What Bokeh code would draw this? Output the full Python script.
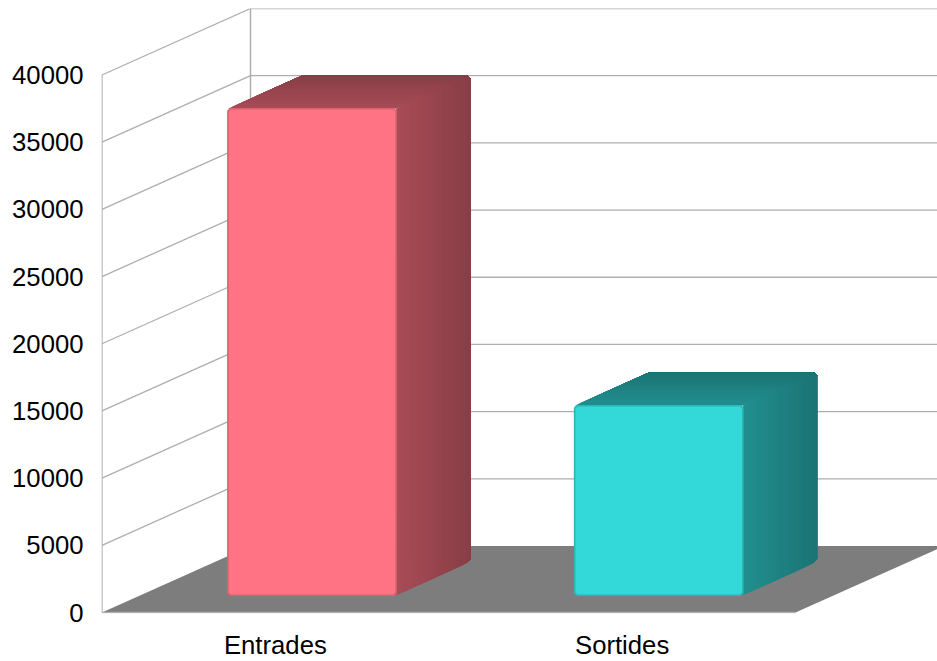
from bokeh.embed import file_html
from bokeh.resources import INLINE
from bokeh.plotting import figure
from bokeh.models import Range1d, FixedTicker

# ---- data
categories = ["Entrades", "Sortides"]
values = [36200, 14100]
y_ticks = [0, 5000, 10000, 15000, 20000, 25000, 30000, 35000, 40000]
face_colors = [(255, 115, 132), (51, 217, 217)]
edge_colors = ["#d9626f", "#2bb5b5"]

# ---- chart geometry
PX_X = 346.75            # pixels per category
PX_Y = 537.5 / 40000     # pixels per value unit
DX = 148.5 / PX_X        # depth shift, in category units
DY = 66.5 / PX_Y         # depth shift, in value units
BAR_W = 0.485
BAR_SHIFT = -2.0 / PX_X
D0, D1 = 0.26, 0.76      # bar span in depth
GRID = "#aeaeae"
FLOOR = "#7d7d7d"
FONT = "Liberation Sans"
FONT_SIZE = "25.7px"

FRAME_W, FRAME_H = 836, 605
x_start = -0.5 / PX_X
y_start = -1.0 / PX_Y

p = figure(width=937, height=661, output_backend="svg", toolbar_location=None,
           x_range=Range1d(x_start, x_start + FRAME_W / PX_X),
           y_range=Range1d(y_start, y_start + FRAME_H / PX_Y),
           min_border_left=101, min_border_right=0, min_border_top=8, min_border_bottom=48)
p.outline_line_color = None
p.grid.visible = False
p.background_fill_color = "white"
p.border_fill_color = "white"


def proj(x, v, d):
    return x + d * DX, v + d * DY


n_cat = len(categories)
top = y_ticks[-1]

# walls
for t in y_ticks[1:]:
    x0, y0 = proj(0, t, 0)
    x1, y1 = proj(0, t, 1)
    p.line([x0, x1, x1 + n_cat], [y0, y1, y1], line_color=GRID, line_width=1.3)
bx, by0 = proj(0, 0, 1)
_, by1 = proj(0, top, 1)
p.line([bx, bx], [by0, by1], line_color=GRID, line_width=1.5)
p.line([0, 0], [0, top], line_color=GRID, line_width=1.3)

# floor
fl = [proj(0, 0, 0), proj(n_cat, 0, 0), proj(n_cat, 0, 1), proj(0, 0, 1)]
p.patch([a[0] for a in fl], [a[1] for a in fl], fill_color=FLOOR, line_color=None)
p.line([0, n_cat], [0, 0], line_color=GRID, line_width=1.5)


def shade(rgb, f):
    return "#%02x%02x%02x" % tuple(int(round(c * f)) for c in rgb)


STRIPS = 28
RX = 3 / PX_X
RY = 3 / PX_Y
for i, (val, rgb, edge) in enumerate(zip(values, face_colors, edge_colors)):
    cx = i + 0.5 + BAR_SHIFT
    xl, xr = cx - BAR_W / 2, cx + BAR_W / 2
    # right side and top: each band runs to the far edge and covers the previous one
    for s in range(STRIPS):
        t = s / STRIPS
        d = D0 + (D1 - D0) * t
        col = shade(rgb, 0.66 - 0.13 * t)
        xa, ya = proj(xr, 0, d)
        xb, yb = proj(xr, 0, D1)
        p.patch([xa, xb - RX, xb, xb, xb - RX, xa],
                [ya, yb, yb + RY, yb + val - RY, yb + val, ya + val],
                fill_color=col, line_color=None)
    for s in range(STRIPS):
        t = s / STRIPS
        d = D0 + (D1 - D0) * t
        col = shade(rgb, 0.66 - 0.13 * t)
        xa, ya = proj(xl, val, d)
        xb, yb = proj(xl, val, D1)
        xc, _ = proj(xr, val, D1)
        xe, _ = proj(xr, val, d)
        p.patch([xa, xb, xc - RX, xe], [ya, yb, yb, ya], fill_color=col, line_color=None)
    # front face with softened corners
    fx0, fy0 = proj(xl, 0, D0)
    fx1, fy1 = proj(xr, val, D0)
    rx, ry = RX * 0.8, RY * 0.8
    p.patch([fx0 + rx, fx1 - rx, fx1, fx1, fx1 - rx, fx0 + rx, fx0, fx0],
            [fy0, fy0, fy0 + ry, fy1 - ry, fy1, fy1, fy1 - ry, fy0 + ry],
            fill_color=shade(rgb, 1.0), line_color=edge, line_width=1.6)

# axes
ya_ = p.yaxis[0]
ya_.ticker = FixedTicker(ticks=y_ticks)
ya_.major_label_text_font = FONT
ya_.major_label_text_font_size = FONT_SIZE
ya_.major_label_text_color = "#000000"
ya_.major_label_standoff = 12
ya_.axis_line_color = None
ya_.major_tick_line_color = None
ya_.minor_tick_line_color = None

xa_ = p.xaxis[0]
xa_.ticker = FixedTicker(ticks=[i + 0.5 for i in range(n_cat)])
xa_.major_label_overrides = {i + 0.5: c for i, c in enumerate(categories)}
xa_.major_label_text_font = FONT
xa_.major_label_text_font_size = FONT_SIZE
xa_.major_label_text_color = "#000000"
xa_.major_label_standoff = 11
xa_.axis_line_color = None
xa_.major_tick_line_color = None
xa_.minor_tick_line_color = None

open("out.html", "w").write(file_html(p, INLINE))
